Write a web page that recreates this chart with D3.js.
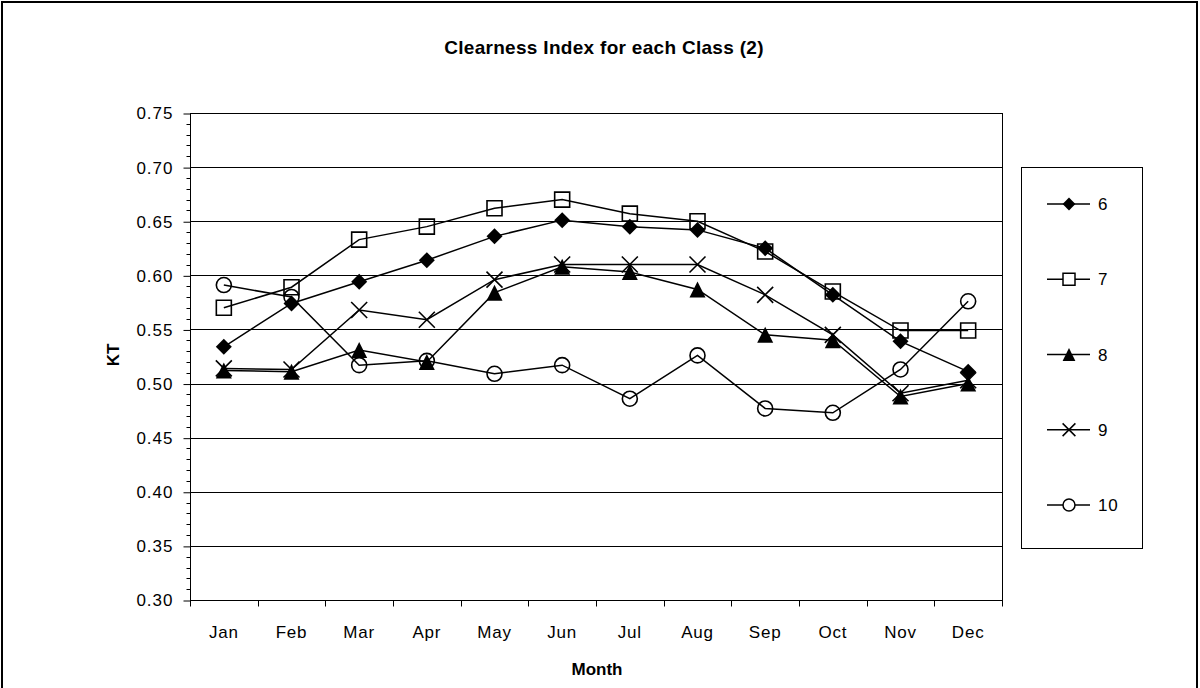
<!DOCTYPE html>
<html>
<head>
<meta charset="utf-8">
<script src="https://cdn.jsdelivr.net/npm/d3@7"></script>
<style>
  html, body { margin: 0; padding: 0; background: #fff; }
  svg { display: block; font-family: "Liberation Sans", Arial, sans-serif; }
</style>
</head>
<body>
<svg id="chart" width="1200" height="688"></svg>
<script>
const months = ["Jan","Feb","Mar","Apr","May","Jun","Jul","Aug","Sep","Oct","Nov","Dec"];
const seriesNames = ["6","7","8","9","10"];
const s6  = [0.534,0.574,0.594,0.614,0.636,0.651,0.645,0.642,0.625,0.582,0.539,0.511];
const s7  = [0.570,0.589,0.633,0.645,0.662,0.670,0.657,0.650,0.622,0.585,0.549,0.549];
const s8  = [0.512,0.511,0.531,0.520,0.584,0.608,0.603,0.587,0.545,0.540,0.488,0.500];
const s9  = [0.514,0.513,0.568,0.559,0.596,0.610,0.610,0.610,0.582,0.545,0.491,0.503];
const s10 = [0.591,0.580,0.517,0.521,0.509,0.517,0.486,0.526,0.477,0.473,0.513,0.576];
const yTicks = [0.30,0.35,0.40,0.45,0.50,0.55,0.60,0.65,0.70,0.75];
const title = "Clearness Index for each Class (2)";
const xTitle = "Month";
const yTitle = "KT";

const seriesValues = [s6, s7, s8, s9, s10];
const markerKinds = ["diamond","square","triangle","x","circle"];

// custom symbol types (size = half-width in px)
const symbolTypes = {
  diamond: { draw(c, r) { c.moveTo(0,-r); c.lineTo(r,0); c.lineTo(0,r); c.lineTo(-r,0); c.closePath(); } },
  square:  { draw(c, r) { c.moveTo(-r,-r); c.lineTo(r,-r); c.lineTo(r,r); c.lineTo(-r,r); c.closePath(); } },
  triangle:{ draw(c, r) { c.moveTo(0,-r); c.lineTo(r,r); c.lineTo(-r,r); c.closePath(); } },
  x:       { draw(c, r) { c.moveTo(-r,-r); c.lineTo(r,r); c.moveTo(r,-r); c.lineTo(-r,r); } },
  circle:  { draw(c, r) { c.moveTo(r,0); c.arc(0,0,r,0,2*Math.PI); } }
};
const markerStyle = {
  diamond:  { fill: "#000", stroke: "none", r: 8 },
  square:   { fill: "none", stroke: "#000", r: 7.5 },
  triangle: { fill: "#000", stroke: "none", r: 8 },
  x:        { fill: "none", stroke: "#000", r: 8 },
  circle:   { fill: "none", stroke: "#000", r: 7.5 }
};

const svg = d3.select("#chart");
const plot = { left: 190, right: 1002, top: 113, bottom: 600 };

// outer border
svg.append("rect").attr("x", 2).attr("y", 2).attr("width", 1195).attr("height", 700)
  .attr("fill", "#fff").attr("stroke", "#000").attr("stroke-width", 2);

const x = d3.scaleBand().domain(months).range([plot.left, plot.right]).paddingInner(0).paddingOuter(0);
const y = d3.scaleLinear().domain([0.30, 0.75]).range([plot.bottom, plot.top]);
const xc = m => x(m) + x.bandwidth() / 2;

// gridlines
svg.append("g").selectAll("line").data(yTicks.slice(1)).join("line")
  .attr("x1", plot.left).attr("x2", plot.right)
  .attr("y1", d => Math.round(y(d)) + 0.5).attr("y2", d => Math.round(y(d)) + 0.5)
  .attr("stroke", "#000").attr("stroke-width", 1);

// plot frame (right)
svg.append("line").attr("x1", plot.right + 0.5).attr("x2", plot.right + 0.5)
  .attr("y1", plot.top).attr("y2", plot.bottom).attr("stroke", "#000");

// y axis
const yAxis = d3.axisLeft(y).tickValues(yTicks).tickFormat(d3.format(".2f")).tickSize(7).tickPadding(10);
const gy = svg.append("g").attr("transform", `translate(${plot.left + 0.5},0.5)`).call(yAxis);
gy.select(".domain").attr("stroke", "#000").attr("d", `M0,${y(0.75)}V${y(0.30)}`);
gy.selectAll("text").attr("font-size", 17).attr("letter-spacing", "1px").attr("fill", "#000")
  .attr("font-family", "'Liberation Sans', Arial, sans-serif");
// minor ticks
const minor = d3.range(30, 76).map(v => v / 100).filter(v => Math.round(v * 100) % 5 !== 0);
gy.append("g").selectAll("line").data(minor).join("line")
  .attr("x1", -4).attr("x2", 0).attr("y1", d => Math.round(y(d))).attr("y2", d => Math.round(y(d)))
  .attr("stroke", "#000");

// x axis
const xAxis = d3.axisBottom(x).tickSize(0).tickPadding(25);
const gx = svg.append("g").attr("transform", `translate(0,${plot.bottom + 0.5})`).call(xAxis);
gx.select(".domain").attr("stroke", "#000").attr("d", `M${plot.left},0H${plot.right + 1}`);
gx.selectAll("text").attr("font-size", 17).attr("letter-spacing", "0.8px").attr("fill", "#000")
  .attr("font-family", "'Liberation Sans', Arial, sans-serif");
const boundaries = d3.range(months.length + 1).map(i => plot.left + i * x.bandwidth());
gx.append("g").selectAll("line").data(boundaries).join("line")
  .attr("x1", d => Math.round(d) + 0.5).attr("x2", d => Math.round(d) + 0.5)
  .attr("y1", 0).attr("y2", 6).attr("stroke", "#000");

// titles
svg.append("text").attr("x", 604).attr("y", 54).attr("text-anchor", "middle")
  .attr("font-size", 19).attr("font-weight", "bold").attr("letter-spacing", "0.3px").text(title);
svg.append("text").attr("x", 597).attr("y", 675).attr("text-anchor", "middle")
  .attr("font-size", 17).attr("font-weight", "bold").text(xTitle);
svg.append("text").attr("transform", "translate(119,355) rotate(-90)").attr("text-anchor", "middle")
  .attr("font-size", 17).attr("font-weight", "bold").text(yTitle);

// series
const line = d3.line().x((d, i) => xc(months[i])).y(d => y(d));
seriesValues.forEach((vals, si) => {
  const g = svg.append("g");
  g.append("path").datum(vals).attr("d", line).attr("fill", "none")
    .attr("stroke", "#000").attr("stroke-width", 1.5);
  const kind = markerKinds[si];
  const st = markerStyle[kind];
  g.selectAll("path.m").data(vals).join("path").attr("class", "m")
    .attr("transform", (d, i) => `translate(${xc(months[i])},${y(d)})`)
    .attr("d", d3.symbol().type(symbolTypes[kind]).size(st.r))
    .attr("fill", st.fill).attr("stroke", st.stroke).attr("stroke-width", 1.6);
});

// legend
const legend = svg.append("g");
legend.append("rect").attr("x", 1021.5).attr("y", 167.5).attr("width", 121).attr("height", 381)
  .attr("fill", "#fff").attr("stroke", "#000").attr("stroke-width", 1);
const legendY = d3.scalePoint().domain(seriesNames).range([204, 505]);
seriesNames.forEach((name, si) => {
  const cy = legendY(name);
  const kind = markerKinds[si];
  const st = markerStyle[kind];
  legend.append("line").attr("x1", 1047).attr("x2", 1090).attr("y1", cy).attr("y2", cy)
    .attr("stroke", "#000").attr("stroke-width", 1.5);
  legend.append("path").attr("transform", `translate(1069,${cy})`)
    .attr("d", d3.symbol().type(symbolTypes[kind]).size(st.r * 0.8))
    .attr("fill", st.fill === "none" ? "#fff" : st.fill).attr("stroke", st.stroke).attr("stroke-width", 1.5);
  legend.append("text").attr("x", 1098).attr("y", cy).attr("dy", "0.36em")
    .attr("font-size", 17).attr("letter-spacing", "0.8px").text(name);
});
</script>
</body>
</html>
